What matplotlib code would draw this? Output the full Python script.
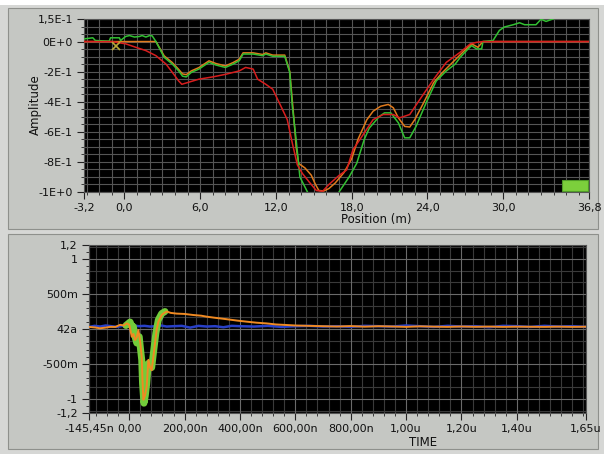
import numpy as np
import matplotlib
matplotlib.use('Agg')
import matplotlib.pyplot as plt
from matplotlib.patches import Rectangle

W, H = 604, 454

# --- top graph: amplitude vs position ---
pos_ticks = [-3.2, 0, 6, 12, 18, 24, 30, 36.8]
pos_labels = ['-3,2', '0,0', '6,0', '12,0', '18,0', '24,0', '30,0', '36,8']
amp_ticks = [0.15, 0, -0.2, -0.4, -0.6, -0.8, -1.0]
amp_labels = ['1,5E-1', '0E+0', '-2E-1', '-4E-1', '-6E-1', '-8E-1', '-1E+0']

green_x = [-3.2, -2.5, -2.3, -1.2, -1.1, -0.4, -0.3, 0.1, 0.4, 0.8, 1.2, 1.4, 1.7, 2.0, 2.2,
           2.5, 3.15, 3.8, 4.3, 4.6, 4.9, 5.3, 5.9, 6.7, 7.25, 8.0, 8.6, 9.1, 9.4, 10.2,
           10.95, 11.2, 11.75, 12.7, 13.1, 13.3, 13.6, 13.9, 14.5, 15.0, 16.5, 17.0, 17.8,
           18.4, 19.0, 19.4, 20.2, 20.6, 21.1, 21.7, 22.2, 22.6, 23.1, 23.9, 24.7, 25.5,
           26.2, 26.6, 27.1, 27.5, 27.9, 28.3, 28.4, 29.2, 29.7, 30.1, 30.8, 31.3, 31.7,
           32.6, 33.0, 33.4, 34.0]
green_y = [0.018, 0.025, 0.007, 0.003, 0.025, 0.025, 0.007, 0.034, 0.04, 0.03, 0.034, 0.04,
           0.03, 0.04, 0.038, 0.0, -0.105, -0.15, -0.195, -0.23, -0.235, -0.205, -0.183,
           -0.138, -0.156, -0.172, -0.15, -0.127, -0.083, -0.083, -0.094, -0.083, -0.098,
           -0.098, -0.205, -0.43, -0.65, -0.9, -1.0, -1.1, -1.1, -1.0, -0.9, -0.81, -0.65,
           -0.575, -0.497, -0.474, -0.474, -0.54, -0.64, -0.64, -0.564, -0.407, -0.262,
           -0.195, -0.15, -0.105, -0.06, -0.027, -0.049, -0.049, 0.0, 0.007, 0.074, 0.097,
           0.112, 0.125, 0.112, 0.112, 0.148, 0.134, 0.152]

orange_x = [-3.2, 2.5, 3.15, 3.8, 4.3, 4.6, 4.9, 5.3, 5.9, 6.7, 7.25, 8.0, 8.6, 9.1, 9.4,
            10.2, 10.95, 11.2, 11.75, 12.7, 13.1, 13.5, 13.6, 13.8, 14.3, 14.8, 15.1, 15.4,
            15.8, 16.2, 16.7, 17.4, 18.0, 18.5, 19.2, 19.7, 20.3, 20.9, 21.3, 21.7, 22.2,
            22.6, 23.0, 23.7, 24.5, 25.2, 26.0, 26.8, 27.5, 28.0, 28.4, 36.8]
orange_y = [0, 0, -0.095, -0.14, -0.185, -0.215, -0.22, -0.195, -0.173, -0.128, -0.146,
            -0.162, -0.14, -0.117, -0.075, -0.075, -0.086, -0.075, -0.09, -0.09, -0.2,
            -0.586, -0.7, -0.81, -0.84, -0.888, -0.944, -0.99, -0.993, -0.977, -0.94, -0.87,
            -0.78, -0.65, -0.52, -0.463, -0.43, -0.418, -0.44, -0.507, -0.564, -0.568,
            -0.519, -0.407, -0.272, -0.205, -0.138, -0.071, -0.015, -0.038, 0, 0]

red_x = [-3.2, -1.0, 0.1, 0.9, 1.7, 2.5, 3.3, 3.8, 4.3, 4.55, 5.9, 7.0, 8.05, 9.1, 9.6, 10.2,
         10.55, 11.2, 11.75, 12.4, 12.9, 13.3, 13.7, 14.1, 14.7, 15.2, 15.7, 16.2, 17.0,
         17.6, 18.1, 18.9, 19.7, 20.5, 21.3, 21.8, 22.6, 23.4, 24.5, 25.5, 26.6, 27.4, 27.9,
         28.4, 36.8]
red_y = [0, 0, -0.015, -0.038, -0.06, -0.094, -0.15, -0.205, -0.262, -0.284, -0.25, -0.235,
         -0.217, -0.195, -0.172, -0.183, -0.25, -0.284, -0.317, -0.43, -0.519, -0.675, -0.82,
         -0.877, -0.94, -0.99, -0.995, -0.95, -0.89, -0.854, -0.72, -0.62, -0.519, -0.485,
         -0.485, -0.507, -0.485, -0.385, -0.25, -0.138, -0.071, -0.015, -0.005, 0, 0]

cursor_pos = (-0.7, -0.027)

# --- bottom graph: signal vs time (ns) ---
time_ticks = [-145.45, 0, 200, 400, 600, 800, 1000, 1200, 1400, 1650]
time_labels = ['-145,45n', '0,00', '200,00n', '400,00n', '600,00n', '800,00n',
               '1,00u', '1,20u', '1,40u', '1,65u']
sig_ticks = [1.2, 1.0, 0.5, 0.0, -0.5, -1.0, -1.2]
sig_labels = ['1,2', '1', '500m', '42a', '-500m', '-1', '-1,2']

blue_t = [-145, -125, -105, -85, -65, -45, -25, -5, 15, 35, 55, 75, 95, 115, 135, 160, 190,
          220, 250, 280, 310, 340, 370, 400, 450, 500, 550, 600, 650, 700, 750, 800, 850,
          900, 950, 1000, 1050, 1100, 1150, 1200, 1250, 1300, 1350, 1400, 1450, 1500, 1550,
          1600, 1650]
blue_v = [0.03, 0.045, 0.035, 0.05, 0.04, 0.03, 0.045, 0.035, 0.05, 0.04, 0.045, 0.035,
          0.04, 0.05, 0.035, 0.04, 0.045, 0.02, 0.045, 0.035, 0.04, 0.025, 0.045, 0.04,
          0.035, 0.045, 0.03, 0.04, 0.045, 0.035, 0.04, 0.03, 0.045, 0.04, 0.035, 0.05,
          0.04, 0.03, 0.045, 0.035, 0.04, 0.025, 0.045, 0.04, 0.03, 0.045, 0.035, 0.04, 0.03]

sig_orange_t = [-145, -120, -106, -85, -70, -50, -33, -20, -9, 0, 9, 15, 21, 27, 33, 40, 45,
                48, 51, 57, 63, 69, 75, 81, 87, 93, 99, 105, 111, 117, 123, 135, 150, 171,
                200, 231, 260, 280, 310, 352, 390, 424, 460, 496, 530, 569, 600, 650, 700,
                750, 800, 850, 900, 950, 1000, 1050, 1100, 1150, 1200, 1250, 1300, 1350,
                1400, 1450, 1500, 1550, 1600, 1650]
sig_orange_v = [0.03, 0.02, 0.01, 0.02, 0.03, 0.03, 0.06, 0.05, 0.08, 0.06, -0.11, -0.07,
                -0.157, -0.12, -0.014, -0.2, -0.396, -0.75, -1.01, -0.95, -0.82, -0.44, -0.55,
                -0.59, -0.4, -0.2, -0.01, 0.1, 0.15, 0.2, 0.22, 0.25, 0.23, 0.22, 0.215, 0.2,
                0.19, 0.176, 0.16, 0.14, 0.12, 0.105, 0.09, 0.08, 0.065, 0.057, 0.05, 0.045,
                0.04, 0.035, 0.042, 0.033, 0.04, 0.036, 0.03, 0.038, 0.034, 0.03, 0.036,
                0.031, 0.035, 0.03, 0.033, 0.032, 0.03, 0.034, 0.03, 0.033]

sig_green_t = [-12, -3, 3, 9, 15, 21, 27, 33, 36, 41, 45, 48, 53, 58, 63, 69, 75, 81, 87, 96,
               105, 117, 129]
sig_green_v = [0.05, 0.08, 0.1, 0.04, 0.033, -0.11, -0.2, -0.12, -0.11, -0.3, -0.44, -0.78,
               -1.06, -0.95, -0.78, -0.49, -0.54, -0.55, -0.35, -0.06, 0.13, 0.22, 0.25]


def fig_rect(x0, y0, x1, y1):
    # pixel box (top-left origin) -> figure fraction rect
    return [x0 / W, 1 - y1 / H, (x1 - x0) / W, (y1 - y0) / H]


plt.rcParams['font.family'] = 'DejaVu Sans'
fig = plt.figure(figsize=(W / 100, H / 100), dpi=100, facecolor='white')

# panel backgrounds
fig.patches.append(Rectangle((0, 0), 1, 1 - 5 / H, transform=fig.transFigure,
                             facecolor='#d6d7d5', edgecolor='none', zorder=-10))
for y0, y1 in [(8, 229), (234, 449)]:
    r = fig_rect(8, y0, 598, y1)
    fig.patches.append(Rectangle((r[0], r[1]), r[2], r[3], transform=fig.transFigure,
                                 facecolor='#c5c7c3', edgecolor='#8e908c', lw=0.8, zorder=-9))

tick_kw = dict(colors='#222222', labelsize=8, labelcolor='#111111')

# --- top graph ---
ax1 = fig.add_axes(fig_rect(84, 19, 589, 192))
ax1.set_facecolor('black')
ax1.plot(orange_x, orange_y, color='#e07a1c', lw=1.1, zorder=3)
ax1.plot(green_x, green_y, color='#33c033', lw=1.1, zorder=4)
ax1.plot(red_x, red_y, color='#d81e1e', lw=1.1, zorder=5)
ax1.plot(*cursor_pos, marker='x', color='#b8a838', ms=6, mew=1.2, zorder=6)
ax1.set_xlim(-3.2, 36.8)
ax1.set_ylim(-1.0, 0.15)
ax1.set_xticks(pos_ticks)
ax1.set_xticklabels(pos_labels)
ax1.set_xticks(np.arange(-3, 37, 1), minor=True)
ax1.set_yticks(amp_ticks)
ax1.set_yticklabels(amp_labels)
ax1.set_yticks(np.arange(-1.0, 0.151, 0.05), minor=True)
ax1.grid(which='both', color='#555555', lw=0.8)
ax1.tick_params(which='major', length=5, width=0.8, pad=3, **tick_kw)
ax1.tick_params(which='minor', length=2.5, width=0.6, colors='#222222')
for s in ax1.spines.values():
    s.set_color('#555555')
ax1.set_axisbelow(True)

fig.text(35 / W, 1 - 105 / H, 'Amplitude', rotation=90, ha='center', va='center',
         fontsize=8.5, color='#111111')
fig.text(376 / W, 1 - 220 / H, 'Position (m)', ha='center', va='center',
         fontsize=8.5, color='#111111')

# plot legend swatch
lg = fig_rect(562, 180, 588, 191)
fig.patches.append(Rectangle((lg[0], lg[1]), lg[2], lg[3], transform=fig.transFigure,
                             facecolor='#7ccf3c', edgecolor='#4f9a28', lw=0.8, zorder=5))

# --- bottom graph ---
ax2 = fig.add_axes(fig_rect(89, 245, 586, 413))
ax2.set_facecolor('black')
ax2.plot(blue_t, blue_v, color='#2840c8', lw=1.8, zorder=3)
ax2.plot(sig_green_t, sig_green_v, color='#72cc3a', lw=5, solid_capstyle='round',
         solid_joinstyle='round', zorder=4)
ax2.plot(sig_orange_t, sig_orange_v, color='#f08a22', lw=1.4, zorder=5)
ax2.set_xlim(-145.45, 1650)
ax2.set_ylim(-1.2, 1.2)
ax2.set_xticks(time_ticks)
ax2.set_xticklabels(time_labels)
ax2.set_xticks(np.arange(-120, 1650, 40), minor=True)
ax2.set_yticks(sig_ticks)
ax2.set_yticklabels(sig_labels)
ax2.set_yticks(np.arange(-1.2, 1.21, 0.1), minor=True)
ax2.grid(which='major', color='#6a6a6a', lw=0.8)
ax2.grid(which='minor', axis='x', color='#3a3a3a', lw=0.8)
for v in np.arange(-7, 8) / 6:
    if abs(v * 2 - round(v * 2)) > 1e-6:
        ax2.axhline(v, color='#3a3a3a', lw=0.8, zorder=0.5)
ax2.tick_params(which='major', length=5, width=0.8, pad=3, **tick_kw)
ax2.tick_params(which='minor', length=2.5, width=0.6, colors='#222222')
for s in ax2.spines.values():
    s.set_color('#555555')
ax2.set_axisbelow(True)

fig.text(423 / W, 1 - 443 / H, 'TIME', ha='center', va='center', fontsize=8.5,
         color='#111111')

fig.savefig('out.png', dpi=100, facecolor=fig.get_facecolor())
